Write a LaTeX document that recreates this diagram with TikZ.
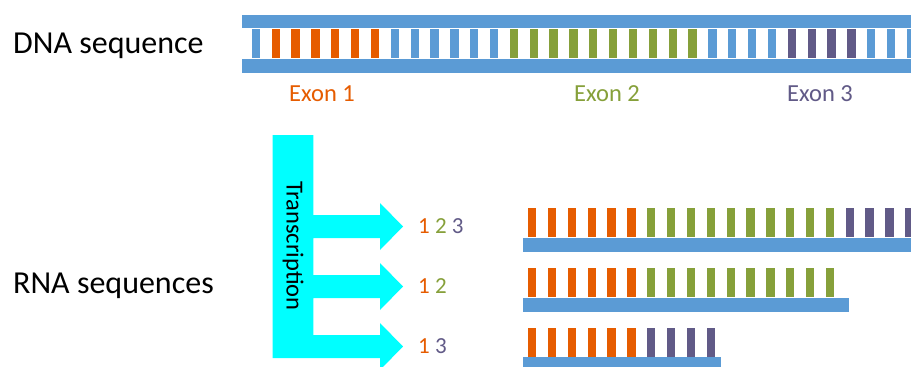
\documentclass[tikz,border=0pt]{standalone}
\usepackage{fontspec}
\setmainfont{Carlito}
\usetikzlibrary{positioning}

\definecolor{dnablue}{HTML}{5B9BD5}
\definecolor{exonone}{HTML}{E65C00}
\definecolor{exontwo}{HTML}{86A03A}
\definecolor{exonthree}{HTML}{615A87}
\definecolor{txarrow}{HTML}{00FFFF}

\tikzset{
  strand/.style={fill=dnablue},
  seqlabel/.style={inner sep=0pt,anchor=base west,font=\fontsize{32}{38}\selectfont},
  exonlabel/.style={inner sep=0pt,anchor=base,font=\fontsize{24.5}{30}\selectfont},
  numlabel/.style={inner sep=0pt,font=\fontsize{23}{28}\selectfont}
}

\begin{document}
\begin{tikzpicture}[x=1pt,y=-1pt]
        \clip (0,0) rectangle (911,367);
        \fill[white] (0,0) rectangle (911,367);
        % double strand
        \fill[strand] (241.7,14.5) rectangle (915,28);
        \fill[strand] (241.7,58.5) rectangle (915,73);
        \foreach \a/\b/\c in {0/0/dnablue,1/6/exonone,7/12/dnablue,13/22/exontwo,23/26/dnablue,27/30/exonthree,31/33/dnablue}
            \foreach \k in {\a,...,\b}
                \fill[\c] ({251.7+19.85*\k},29) rectangle +(8.3,28.5);
        \node[seqlabel] (dna) at (13,53) {DNA sequence};
        \node[exonlabel,text=exonone] (exon1) at (322,101) {Exon 1};
        \node[exonlabel,text=exontwo] (exon2) at (607,101) {Exon 2};
        \node[exonlabel,text=exonthree] (exon3) at (820,101) {Exon 3};
        % transcription arrows
        \fill[txarrow] (272.7,135) -- (313.3,135)
            -- (313.3,215) -- (380,215) -- (380,203) -- (403,226.5) -- (380,250) -- (380,238) -- (313.3,238)
            -- (313.3,275) -- (380,275) -- (380,263) -- (403,286.5) -- (380,310) -- (380,298) -- (313.3,298)
            -- (313.3,335) -- (380,335) -- (380,323) -- (403,346.5) -- (380,370) -- (380,358) -- (272.7,358) -- cycle;
        \node[inner sep=0pt,rotate=-90,font=\fontsize{24.5}{30}\selectfont] (tx) at (293,246) {Transcription};
        \coordinate (tip1) at (403,226.5);
        \coordinate (tip2) at (403,286.5);
        \coordinate (tip3) at (403,346.5);
        \node[numlabel,right=15pt of tip1] (num1) {\textcolor{exonone}{1} \textcolor{exontwo}{2} \textcolor{exonthree}{3}};
        \node[numlabel,right=15pt of tip2] (num2) {\textcolor{exonone}{1} \textcolor{exontwo}{2}};
        \node[numlabel,right=15pt of tip3] (num3) {\textcolor{exonone}{1} \textcolor{exonthree}{3}};
        \node[seqlabel] (rna) at (13,293) {RNA sequences};
        % spliced strands
        \fill[strand] (523,238) rectangle (915,252);
        \foreach \a/\b/\c in {0/5/exonone,6/15/exontwo,16/19/exonthree}
            \foreach \k in {\a,...,\b}
                \fill[\c] ({528+19.85*\k},208) rectangle +(8.3,29);
        \fill[strand] (523,298) rectangle (849,312);
        \foreach \a/\b/\c in {0/5/exonone,6/15/exontwo}
            \foreach \k in {\a,...,\b}
                \fill[\c] ({528+19.85*\k},268) rectangle +(8.3,29);
        \fill[strand] (523,357) rectangle (721,371);
        \foreach \a/\b/\c in {0/5/exonone,6/9/exonthree}
            \foreach \k in {\a,...,\b}
                \fill[\c] ({528+19.85*\k},328) rectangle +(8.3,28.5);
\end{tikzpicture}
\end{document}
